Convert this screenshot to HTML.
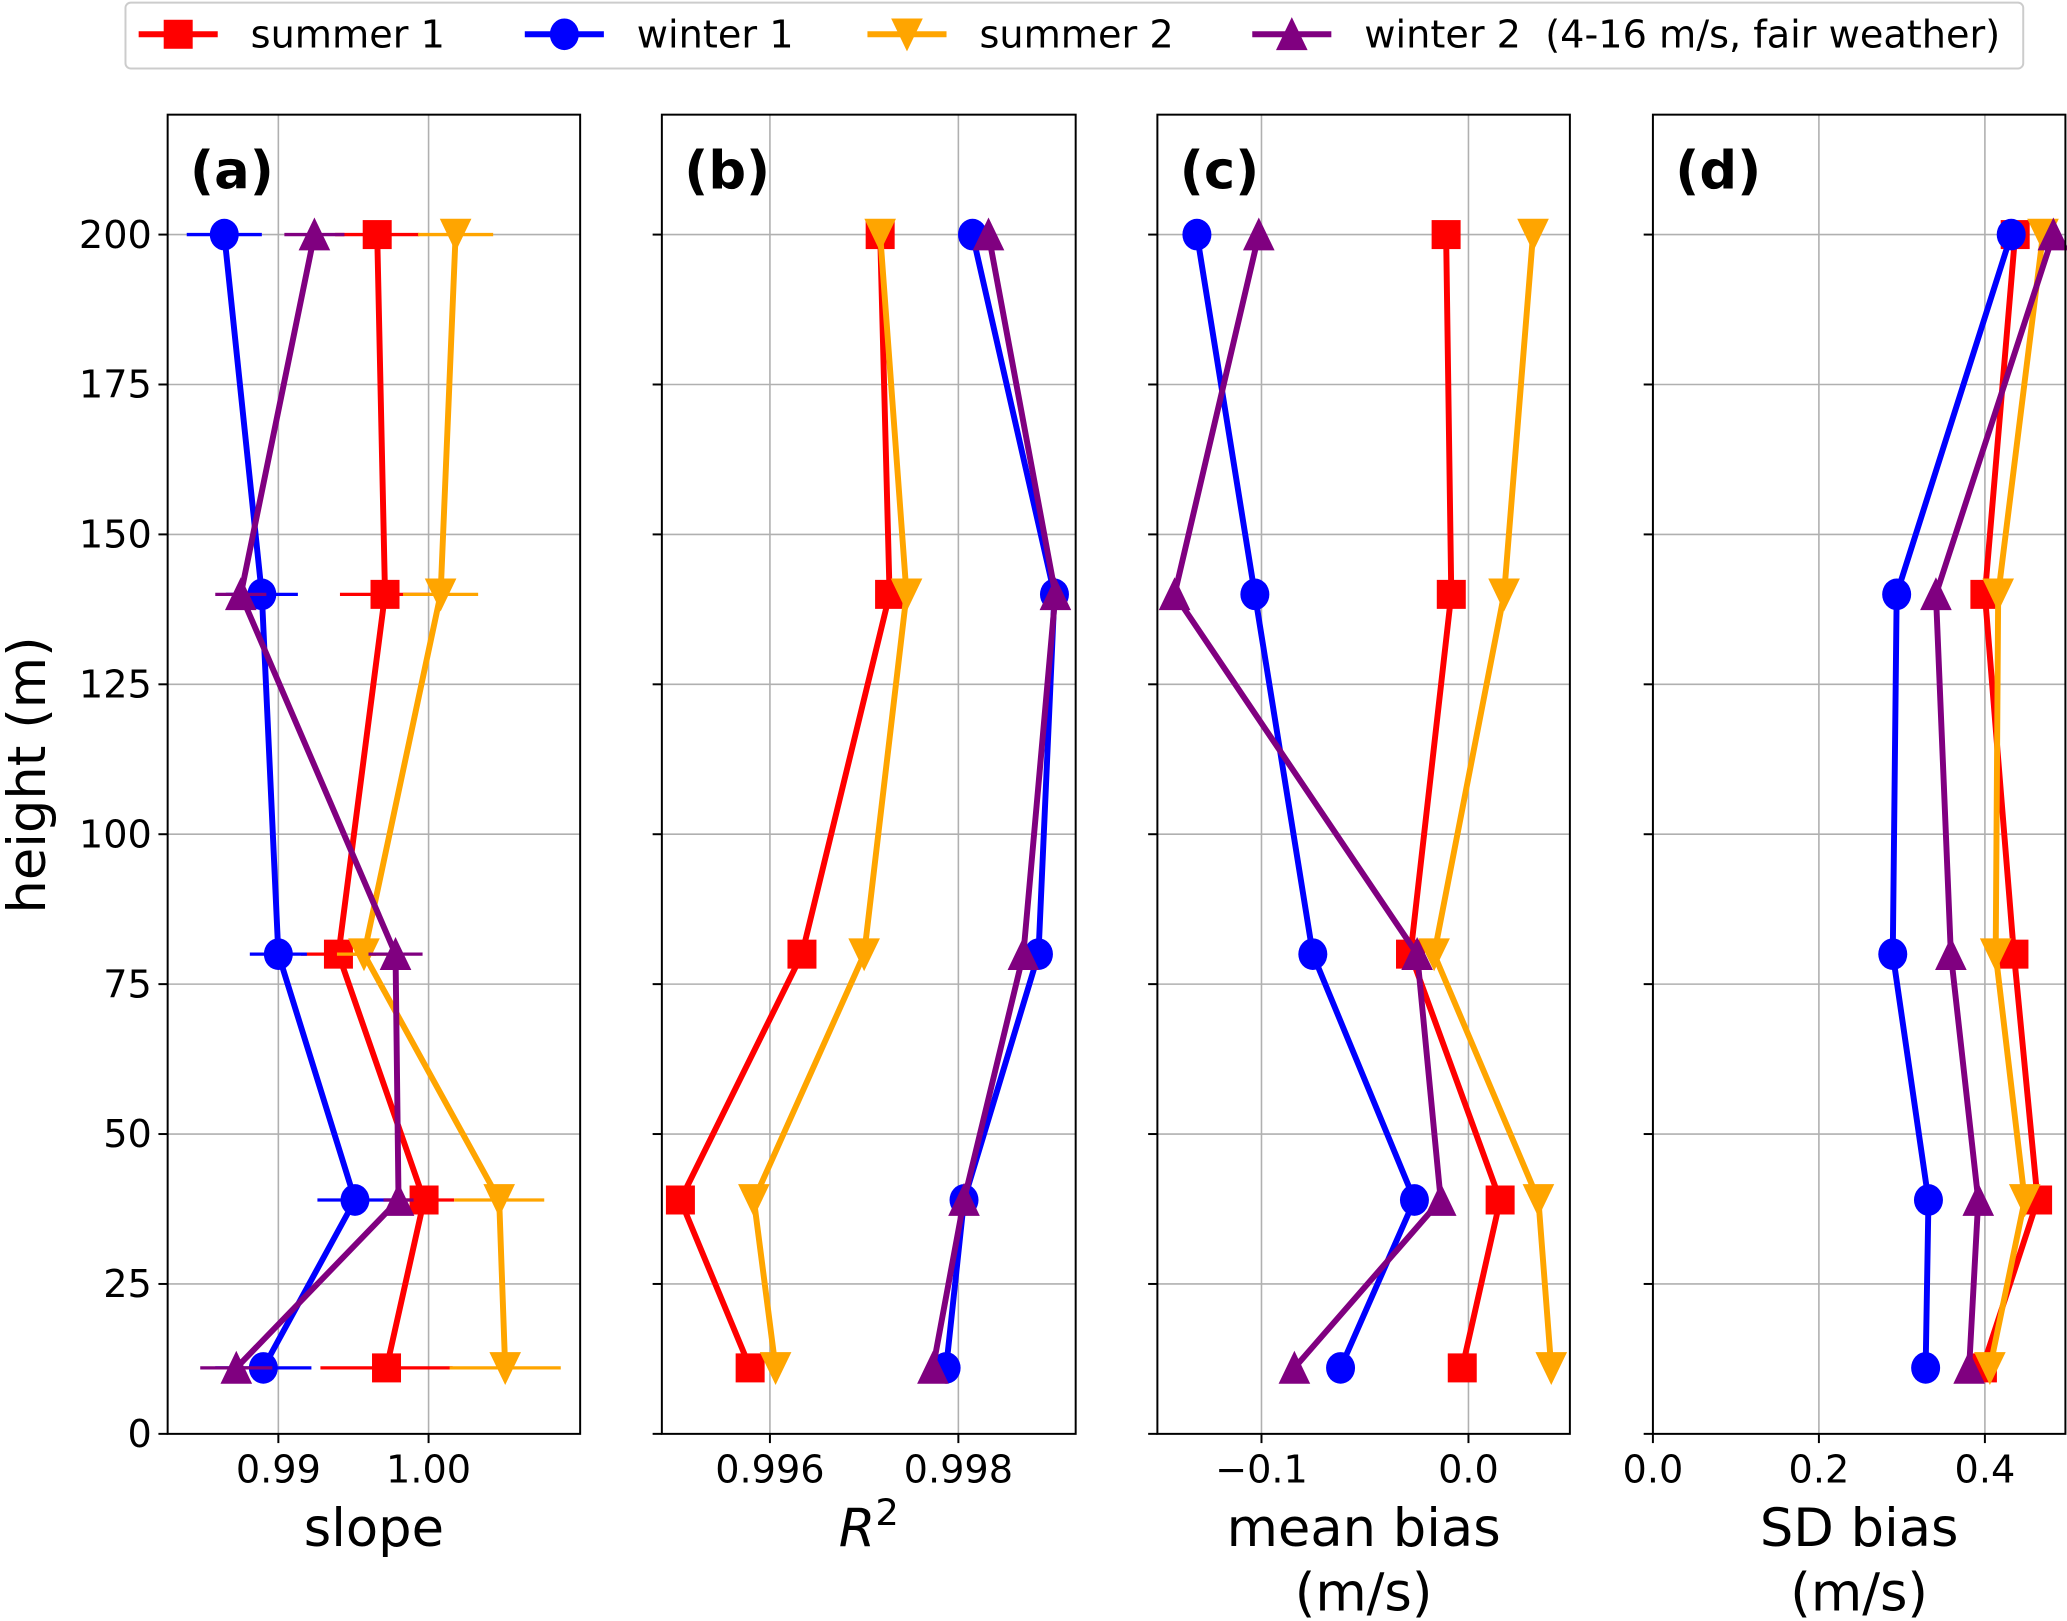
<!DOCTYPE html>
<html><head><meta charset="utf-8"><style>
html,body{margin:0;padding:0;background:#fff;}
svg{display:block;font-family:"DejaVu Sans","Liberation Sans",sans-serif;}
</style></head><body>
<svg id="fig" width="2067" height="1621" viewBox="0 0 1568 1230" xmlns="http://www.w3.org/2000/svg">
<g id="legend">
<rect x="95" y="2" width="1440" height="50" rx="4" fill="#fff" stroke="#ccc" stroke-width="1.5"/>
</g>
</svg>
<script>
const heights=[200,140,80,39,11];
const seriesNames=["summer 1","winter 1","summer 2","winter 2"];
const slopeSummer1=[0.99658,0.9971,0.9940,0.9997,0.9972];
const slopeWinter1=[0.9864,0.9889,0.9900,0.9951,0.9890];
const slopeSummer2=[1.0018,1.0008,0.9957,1.0047,1.0051];
const slopeWinter2=[0.9924,0.9875,0.9978,0.9980,0.9872];
const slopeErrSummer1=[0.0028,0.0030,0.0025,0.0020,0.0044];
const slopeErrWinter1=[0.0025,0.0024,0.0019,0.0025,0.0032];
const slopeErrSummer2=[0.0025,0.0025,0.0018,0.0030,0.0037];
const slopeErrWinter2=[0.0020,0.0017,0.0018,0.0010,0.0024];
const r2Summer1=[0.99717,0.99727,0.99634,0.99505,0.99579];
const r2Winter1=[0.99815,0.99902,0.99885,0.99806,0.99787];
const r2Summer2=[0.99717,0.99745,0.99700,0.99583,0.99606];
const r2Winter2=[0.99832,0.99903,0.99869,0.99806,0.99773];
const mbSummer1=[-0.0108,-0.0083,-0.028,0.0153,-0.003];
const mbWinter1=[-0.1312,-0.1032,-0.0752,-0.0261,-0.0618];
const mbSummer2=[0.0312,0.0172,-0.0166,0.0338,0.040];
const mbWinter2=[-0.1013,-0.142,-0.0248,-0.0134,-0.0841];
const sdSummer1=[0.4365,0.400,0.435,0.4635,0.397];
const sdWinter1=[0.4317,0.2937,0.289,0.332,0.3286];
const sdSummer2=[0.470,0.416,0.413,0.448,0.406];
const sdWinter2=[0.4825,0.341,0.359,0.392,0.381];
const yTicks=[0,25,50,75,100,125,150,175,200];
const slopeTicks=[0.99,1.00],slopeTickLabels=["0.99","1.00"];
const r2Ticks=[0.996,0.998],r2TickLabels=["0.996","0.998"];
const mbTicks=[-0.1,0.0],mbTickLabels=["\u22120.1","0.0"];
const sdTicks=[0.0,0.2,0.4],sdTickLabels=["0.0","0.2","0.4"];

const NS="http://www.w3.org/2000/svg";
const svg=document.getElementById('fig');
const colors=["#ff0000","#0000ff","#ffa500","#800080"];
const markers=["square","circle","down","up"];
const yTop=87,yBot=1088,yMin=0,yMax=220;
function yS(v){return yBot-(v-yMin)/(yMax-yMin)*(yBot-yTop);}
function mk(tag,attrs,parent){const e=document.createElementNS(NS,tag);for(const k in attrs)e.setAttribute(k,attrs[k]);(parent||svg).appendChild(e);return e;}
function marker(g,type,x,y,c){
  let e;
  if(type==="square")e=mk('rect',{x:x-11,y:y-11,width:22,height:22,fill:c},g);
  else if(type==="circle")e=mk('ellipse',{cx:x,cy:y,rx:11,ry:12,fill:c},g);
  else if(type==="down")e=mk('polygon',{points:`${x-12},${y-12} ${x+12},${y-12} ${x},${y+13}`,fill:c},g);
  else e=mk('polygon',{points:`${x-12},${y+12} ${x+12},${y+12} ${x},${y-13}`,fill:c},g);
  return e;
}
const panels=[
 {id:'a',left:127,right:440,min:0.98263,max:1.01009,data:[slopeSummer1,slopeWinter1,slopeSummer2,slopeWinter2],err:[slopeErrSummer1,slopeErrWinter1,slopeErrSummer2,slopeErrWinter2],ticks:slopeTicks,labels:slopeTickLabels,xl:["slope"],name:'slope'},
 {id:'b',left:502,right:816,min:0.994853,max:0.999245,data:[r2Summer1,r2Winter1,r2Summer2,r2Winter2],ticks:r2Ticks,labels:r2TickLabels,xl:["R2"],name:'r-squared'},
 {id:'c',left:878,right:1191,min:-0.1503,max:0.049,data:[mbSummer1,mbWinter1,mbSummer2,mbWinter2],ticks:mbTicks,labels:mbTickLabels,xl:["mean bias","(m/s)"],name:'mean-bias'},
 {id:'d',left:1254,right:1567,min:0,max:0.497,data:[sdSummer1,sdWinter1,sdSummer2,sdWinter2],ticks:sdTicks,labels:sdTickLabels,xl:["SD bias","(m/s)"],name:'sd-bias'}
];
panels.forEach((p,pi)=>{
  const g=mk('g',{});
  
  
  const xS=v=>p.left+(v-p.min)/(p.max-p.min)*(p.right-p.left);
  // grid
  p.ticks.forEach((t,i)=>{
    const x=xS(t);
    const gl=mk('line',{x1:x,x2:x,y1:yTop,y2:yBot,stroke:'#b0b0b0','stroke-width':1.2},g);
    
    
    mk('line',{x1:x,x2:x,y1:yBot,y2:yBot+7,stroke:'#000','stroke-width':1.5},g);
    const tl=mk('text',{x:x,y:yBot+37,'font-size':29,'text-anchor':'middle'},g);
    tl.textContent=p.labels[i];
    
    
  });
  yTicks.forEach(t=>{
    const y=yS(t);
    const gl=mk('line',{x1:p.left,x2:p.right,y1:y,y2:y,stroke:'#b0b0b0','stroke-width':1.2},g);
    
    
    mk('line',{x1:p.left-7,x2:p.left,y1:y,y2:y,stroke:'#000','stroke-width':1.5},g);
    if(pi===0){
      const tl=mk('text',{x:p.left-12,y:y+10,'font-size':29,'text-anchor':'end'},g);
      tl.textContent=String(t);
      
      
    }
  });
  // series
  p.data.forEach((arr,si)=>{
    const sg=mk('g',{},g);
    
    
    if(p.err){
      arr.forEach((v,i)=>{
        const e=p.err[si][i];
        const eb=mk('line',{x1:xS(v-e),x2:xS(v+e),y1:yS(heights[i]),y2:yS(heights[i]),stroke:colors[si],'stroke-width':2.5},sg);
        
        
      });
    }
    const pts=arr.map((v,i)=>xS(v)+','+yS(heights[i])).join(' ');
    const pl=mk('polyline',{points:pts,fill:'none',stroke:colors[si],'stroke-width':4.5,'stroke-linejoin':'round'},sg);
    
    
    arr.forEach((v,i)=>{
      const m=marker(sg,markers[si],xS(v),yS(heights[i]),colors[si]);
      
      
    });
  });
  const fr=mk('rect',{x:p.left,y:yTop,width:p.right-p.left,height:yBot-yTop,fill:'none',stroke:'#000','stroke-width':1.5},g);
  
  
  const lab=mk('text',{x:p.left+17,y:143,'font-size':40,'font-weight':'bold'},g);
  lab.textContent='('+p.id+')';
  
  
  const cx=(p.left+p.right)/2;
  if(p.xl[0]==="R2"){
    const t=mk('text',{x:cx,y:1173,'font-size':40,'text-anchor':'middle','font-style':'italic'},g);
    t.innerHTML='R<tspan dy="-16" font-size="28" font-style="normal">2</tspan>';
    
    
  } else {
    p.xl.forEach((s,k)=>{
      const t=mk('text',{x:cx,y:1173+k*49,'font-size':40,'text-anchor':'middle'},g);
      t.textContent=s;
      
      
    });
  }
});
const yt=mk('text',{x:0,y:0,'font-size':40,'text-anchor':'middle',transform:'translate(34,588) rotate(-90)'});
yt.textContent='height (m)';


// legend
const lg=document.getElementById('legend');
const legX=[105,398,658,950];
const legText=["summer 1","winter 1","summer 2","winter 2  (4-16 m/s, fair weather)"];
legX.forEach((x,i)=>{
  const eg=mk('g',{},lg);
  
  
  mk('line',{x1:x,x2:x+60,y1:26,y2:26,stroke:colors[i],'stroke-width':4.5},eg);
  marker(eg,markers[i],x+30,26,colors[i]);
  const t=mk('text',{x:x+85,y:36,'font-size':29,'xml:space':'preserve'},eg);
  t.setAttribute('style','white-space:pre');
  t.textContent=legText[i];
});
</script>
</body></html>
